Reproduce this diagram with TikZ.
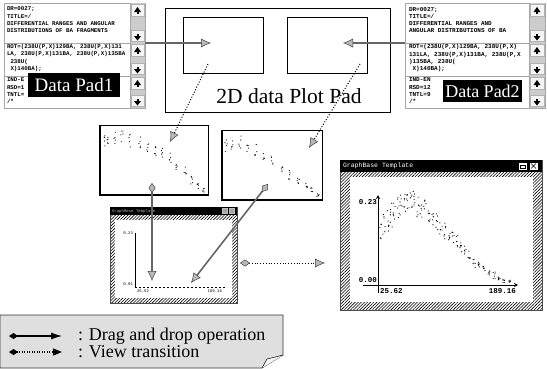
\documentclass[tikz,border=0pt]{standalone}
\usepackage{fontspec}
\setmainfont{Liberation Serif}
\setmonofont{Liberation Mono}
\usetikzlibrary{arrows.meta,patterns.meta}
\tikzset{
  hh/.tip={Latex[length=10pt,width=9pt,fill=gray!55,color=black!75,line width=0.5pt]},
  ht/.tip={Diamond[length=10pt,width=7pt,fill=gray!55,color=black!75,line width=0.5pt]},
  dragline/.style={draw=black!60, line width=1.6pt},
  viewline/.style={draw=black, line width=1pt, dash pattern=on 1pt off 1.8pt},
  padbox/.style={draw=gray!70, line width=1pt, fill=white, anchor=north west},
  padtxt/.style={anchor=north west, align=left, font=\ttfamily\bfseries\fontsize{5.8}{7.2}\selectfont},
  padtxtb/.style={anchor=north west, align=left, font=\ttfamily\bfseries\fontsize{6}{7.2}\selectfont},
  padlabel/.style={fill=black, text=white, anchor=north west},
  thinbox/.style={draw=black, line width=0.8pt, anchor=north west, fill=white},
  hatchframe/.style={draw=black!70, line width=0.6pt, anchor=north west, pattern={Lines[angle=45,distance=2.2pt,line width=0.6pt]}},
  whitebox/.style={fill=white, anchor=north west},
  titlebar/.style={fill=black, anchor=north west},
  dot/.style={fill=black},
}
\begin{document}
\begin{tikzpicture}[x=1pt,y=-1pt, every node/.style={inner sep=0pt, outer sep=0pt}]
\useasboundingbox (0,0) rectangle (547,368);
\fill[white] (0,0) rectangle (547,368);
\pgfmathsetseed{7}

% ================= Data Pad 1 =================
\node[padbox, minimum width=141pt, minimum height=105pt] (pad1) at (4,3) {};
\draw[gray!70, line width=1pt] (4,43) -- (145,43) (4,76) -- (145,76);
\fill[gray!40] (130,3) rectangle (145,108);
\draw[gray!70, line width=0.8pt] (130,3) -- (130,108);
\foreach \t/\b in {3/43,43/76,76/108} {
  \draw[gray!60, fill=gray!8, line width=0.6pt] (131,\t+1.5) rectangle (144,\t+13);
  \draw[gray!60, fill=gray!8, line width=0.6pt] (131,\b-13) rectangle (144,\b-1.5);
  \fill[black] (134,\t+9) -- (141,\t+9) -- (137.5,\t+4) -- cycle;
  \fill[black] (136.5,\t+9) rectangle (138.5,\t+11);
  \fill[black] (134,\b-7) -- (141,\b-7) -- (137.5,\b-2.5) -- cycle;
  \fill[black] (136.5,\b-7) rectangle (138.5,\b-9.5);
}
\node[padtxt] (p1a) at (7,7) {DR=0027;\\TITLE=/\\DIFFERENTIAL RANGES AND ANGULAR\\DISTRIBUTIONS OF BA FRAGMENTS};
\node[padtxt] (p1b) at (7,44.5) {ROT=(238U(P,X)129BA, 238U(P,X)131\\LA, 238U(P,X)131BA, 238U(P,X)135BA\\\hspace{3.5pt}238U(\\\hspace{3.5pt}X)140BA);};
\node[padtxt] (p1c) at (7,78) {IND-E\\RSD=1\\TNTL=\\/*};
\node[padlabel, minimum width=92pt, minimum height=24pt, font=\fontsize{19}{19}\selectfont] (lab1) at (28,73) {Data Pad1};

% ================= Data Pad 2 =================
\node[padbox, minimum width=140pt, minimum height=105pt] (pad2) at (405,3) {};
\draw[gray!70, line width=1pt] (405,43) -- (545,43) (405,76) -- (545,76);
\fill[gray!40] (529,3) rectangle (545,108);
\draw[gray!70, line width=0.8pt] (529,3) -- (529,108);
\foreach \t/\b in {3/43,43/76,76/108} {
  \draw[gray!60, fill=gray!8, line width=0.6pt] (530,\t+1.5) rectangle (544,\t+13);
  \draw[gray!60, fill=gray!8, line width=0.6pt] (530,\b-13) rectangle (544,\b-1.5);
  \fill[black] (533.5,\t+9) -- (540.5,\t+9) -- (537,\t+4) -- cycle;
  \fill[black] (536,\t+9) rectangle (538,\t+11);
  \fill[black] (533.5,\b-7) -- (540.5,\b-7) -- (537,\b-2.5) -- cycle;
  \fill[black] (536,\b-7) rectangle (538,\b-9.5);
}
\node[padtxtb] (p2a) at (409,7) {DR=0027;\\TITLE=/\\DIFFERENTIAL RANGES AND\\ANGULAR DISTRIBUTIONS OF BA};
\node[padtxtb] (p2b) at (409,44.5) {ROT=(238U(P,X)129BA, 238U(P,X)\\131LA, 238U(P,X)131BA, 238U(P,X\\)135BA, 238U(\\\hspace{3.6pt}X)140BA);};
\node[padtxtb] (p2c) at (409,78) {IND-EN\\RSD=12\\TNTL=9\\/*};
\node[padlabel, minimum width=79pt, minimum height=22pt, font=\fontsize{18}{18}\selectfont] (lab2) at (443,80) {Data Pad2};

% ================= 2D data Plot Pad =================
\node[thinbox, minimum width=225pt, minimum height=104pt] (plotpad) at (165,8) {};
\node[thinbox, minimum width=80pt, minimum height=56pt] (inner1) at (183,17) {};
\node[thinbox, minimum width=80pt, minimum height=56pt] (inner2) at (287,17) {};
\node[font=\fontsize{21.5}{21.5}\selectfont] (pptitle) at (289,96) {2D data Plot Pad};

% ================= thumbnails =================
\node[thinbox, minimum width=108pt, minimum height=70pt] (thumbA) at (100,125) {};
\node[thinbox, minimum width=100pt, minimum height=70pt] (thumbB) at (222,130) {};
\draw[black, line width=1.4pt] (100,125) -- (100,195) -- (208,195);
\draw[black, line width=1.4pt] (222,130) -- (222,200) -- (322,200);
\foreach \x/\c/\s in {104/140/6,108/138/6,115/138/7,122/137/6,130/140/7,140/143/7,148/148/6,155/150/6,162/153/5,170/157/6,177/165/5,185/172/5,192/180/4,198/186/3,203/190/2} {
  \foreach \k in {1,...,5} { \fill[dot] (\x+1.2*rand, \c+\s*rand) circle (0.6pt); }
}
\foreach \x/\c/\s in {226/145/7,232/143/7,240/142/6,248/147/6,256/150/6,264/157/5,272/160/5,282/170/4,290/175/5,298/180/4,306/186/3,312/190/3,318/195/2} {
  \foreach \k in {1,...,5} { \fill[dot] (\x+1.2*rand, \c+\s*rand) circle (0.6pt); }
}

% ================= small window =================
\node[hatchframe, minimum width=127pt, minimum height=96pt] (sw) at (110,207) {};
\node[whitebox, minimum width=117pt, minimum height=78pt] (swin) at (115,220) {};
\node[titlebar, minimum width=127pt, minimum height=8pt] (swtitle) at (110,207) {};
\node[anchor=west, text=gray!60, font=\ttfamily\fontsize{4}{4}\selectfont] (swtt) at (112,211) {GraphBase Template};
\node[draw=gray!50, fill=gray!70, minimum width=5pt, minimum height=5pt] (swb1) at (225,211) {};
\node[draw=gray!50, fill=gray!70, minimum width=5pt, minimum height=5pt] (swb2) at (232,211) {};
\draw[black, line width=0.6pt] (135,233) -- (135,287);
\draw[black, line width=0.6pt, dash pattern=on 2pt off 2pt] (135,287) -- (226,287);
\node[anchor=east, font=\ttfamily\fontsize{4}{4}\selectfont] (swy1) at (133,233) {0.23};
\node[anchor=east, font=\ttfamily\fontsize{4}{4}\selectfont] (swy0) at (133,284) {0.01};
\node[anchor=west, font=\ttfamily\fontsize{4}{4}\selectfont] (swx0) at (137,291) {25.52};
\node[anchor=east, font=\ttfamily\fontsize{4}{4}\selectfont] (swx1) at (222,291) {189.16};

% ================= large window =================
\node[hatchframe, minimum width=202pt, minimum height=150pt] (lw) at (340,160) {};
\node[whitebox, minimum width=183pt, minimum height=125pt] (lwin) at (350,177) {};
\node[titlebar, minimum width=202pt, minimum height=12pt] (lwtitle) at (340,160) {};
\node[anchor=west, text=white, font=\ttfamily\fontsize{6.5}{6.5}\selectfont] (lwtt) at (343,166) {GraphBase Template};
\node[draw=black, fill=white, minimum width=9pt, minimum height=8pt] (lwb1) at (522.5,166) {};
\node[draw=black, fill=white, minimum width=9pt, minimum height=8pt] (lwb2) at (533.5,166) {};
\draw[black, line width=0.5pt] (520,165) rectangle (525,168);
\draw[black, line width=0.5pt] (531,163.5) -- (536,168.5) (531,168.5) -- (536,163.5);
\coordinate (yax0) at (378,293);
\coordinate (yax1) at (378,195);
\coordinate (xax0) at (363,285);
\coordinate (xax1) at (518,285);
\draw[black, line width=1pt, -{Stealth[length=4pt,width=4pt]}] (yax0) -- (yax1);
\draw[black, line width=1pt, -{Stealth[length=4pt,width=4pt]}] (xax0) -- (xax1);
\node[anchor=east, font=\ttfamily\bfseries\fontsize{7.5}{7.5}\selectfont] (ly1) at (377,202) {0.23};
\node[anchor=east, font=\ttfamily\bfseries\fontsize{7.5}{7.5}\selectfont] (ly0) at (377,280) {0.00};
\node[anchor=west, font=\ttfamily\bfseries\fontsize{7.5}{7.5}\selectfont] (lx0) at (380,291) {25.62};
\node[anchor=east, font=\ttfamily\bfseries\fontsize{7.5}{7.5}\selectfont] (lx1) at (516,291) {189.16};
\foreach \x/\c/\s in {381/228/12,384/224/12,388/220/12,391/215/12,394/212/11,398/208/11,401/205/10,405/202/10,408/203/10,411/201/9,414/200/9,418/207/10,421/210/10,425/210/10,429/216/9,433/219/9,437/222/9,441/227/9,445/231/8,449/235/8,453/238/8,457/242/7,461/246/7,465/251/6,469/255/6,474/262/6,479/266/5,484/269/4,489/273/4,494/276/4,499/278/3,504/280/3,509/282/2} {
  \foreach \k in {1,...,6} { \fill[dot] (\x+1.2*rand, \c+\s*rand) circle (0.6pt); }
}

% ================= connectors =================
\coordinate (a1s) at (145,43);
\coordinate (a1e) at (211,43);
\coordinate (a2s) at (405,43);
\coordinate (a2e) at (343,43);
\coordinate (v1s) at (208,64);
\coordinate (v1e) at (170,142);
\coordinate (v2s) at (360,64);
\coordinate (v2e) at (309,148);
\coordinate (d1s) at (152,183);
\coordinate (d1e) at (152,281);
\coordinate (d2s) at (268,184);
\coordinate (d2e) at (191,283);
\coordinate (v3s) at (240,263);
\coordinate (v3e) at (325,263);
\draw[dragline, -hh] (a1s) -- (a1e);
\draw[dragline, -hh] (a2s) -- (a2e);
\draw[viewline, -hh] (v1s) -- (v1e);
\draw[viewline, -hh] (v2s) -- (v2e);
\draw[dragline, ht-hh] (d1s) -- (d1e);
\draw[dragline, ht-hh] (d2s) -- (d2e);
\draw[viewline, ht-hh] (v3s) -- (v3e);

% ================= legend =================
\path[fill=gray!25, draw=black!80, line width=0.6pt] (0,315) -- (283,315) -- (283,355) -- (262,368) -- (0,368) -- cycle;
\fill[gray!8] (283,355) -- (267,359) -- (262,368) -- cycle;
\draw[black, line width=0.5pt] (283,355) -- (267,359) -- (262,368);
\coordinate (l1s) at (9,336);
\coordinate (l1e) at (62,336);
\coordinate (l2s) at (9,352);
\coordinate (l2e) at (62,352);
\draw[black, line width=1.2pt, {Diamond[length=9pt,width=6pt]}-{Latex[length=11pt,width=7pt]}] (l1s) -- (l1e);
\draw[black, line width=1.2pt, dash pattern=on 1pt off 1.5pt, {Diamond[length=9pt,width=6pt]}-{Triangle[length=9pt,width=7pt]}] (l2s) -- (l2e);
\node[anchor=west, font=\fontsize{18}{18}\selectfont] (lt1) at (78,336) {: Drag and drop operation};
\node[anchor=west, font=\fontsize{18}{18}\selectfont] (lt2) at (78,352) {: View transition};
\end{tikzpicture}
\end{document}
